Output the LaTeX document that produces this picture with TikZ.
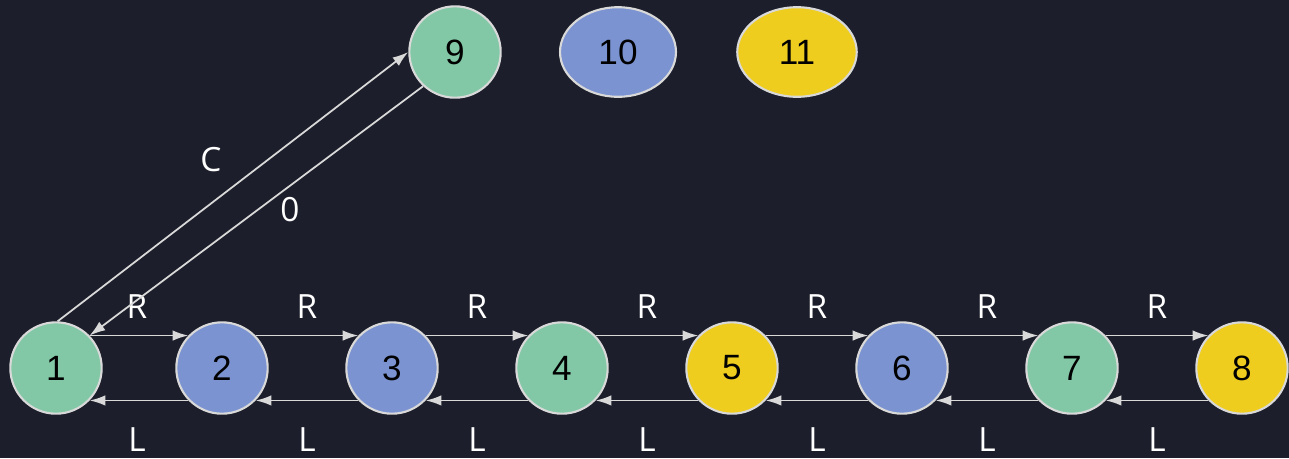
\documentclass[tikz,border=0pt]{standalone}
\usepackage{fontspec}
\setmainfont{Liberation Sans}
\newfontfamily\labfont{Open Sans}
\usetikzlibrary{arrows.meta, shapes.geometric}
\definecolor{bgdark}{HTML}{1C1F2B}
\definecolor{stgreen}{HTML}{82C8A6}
\definecolor{stblue}{HTML}{7B93D0}
\definecolor{styellow}{HTML}{EFCD1F}
\definecolor{edgegray}{HTML}{D9D9D9}
\tikzset{
  st/.style={circle, draw=edgegray, line width=1.2pt, minimum size=52pt, inner sep=0pt, font=\fontsize{20}{20}\selectfont},
  stoval/.style={ellipse, draw=edgegray, line width=1.2pt, inner sep=0pt, font=\fontsize{20}{20}\selectfont},
  tr/.style={draw=edgegray, line width=1pt, -{Latex[length=9pt,width=6pt]}},
  lab/.style={text=white, font=\labfont\fontsize{19}{19}\selectfont}}

\begin{document}
\begin{tikzpicture}[x=0.02cm, y=-0.02cm]
\fill[bgdark] (0,0) rectangle (1289,458);
\useasboundingbox (0,0) rectangle (1289,458);
	% chain
	\node[st, fill=stgreen] (n1) at (56,368) {1};
	\node[st, fill=stblue] (n2) at (222,368) {2};
	\node[st, fill=stblue] (n3) at (392,368) {3};
	\node[st, fill=stgreen] (n4) at (562,368) {4};
	\node[st, fill=styellow] (n5) at (732,368) {5};
	\node[st, fill=stblue] (n6) at (902,368) {6};
	\node[st, fill=stgreen] (n7) at (1072,368) {7};
	\node[st, fill=styellow] (n8) at (1242,368) {8};
	% top row
	\node[st, fill=stgreen] (n9) at (455,52) {9};
	\node[stoval, fill=stblue, minimum width=66pt, minimum height=51pt] (n10) at (618,52) {10};
	\node[stoval, fill=styellow, minimum width=68pt, minimum height=51pt] (n11) at (797,52) {11};
	% R and L
	\draw[tr] (n1.44) -- (n2.136);
	\draw[tr] (n2.44) -- (n3.136);
	\draw[tr] (n3.44) -- (n4.136);
	\draw[tr] (n4.44) -- (n5.136);
	\draw[tr] (n5.44) -- (n6.136);
	\draw[tr] (n6.44) -- (n7.136);
	\draw[tr] (n7.44) -- (n8.136);
	\draw[tr] (n2.-136) -- (n1.-44);
	\draw[tr] (n3.-136) -- (n2.-44);
	\draw[tr] (n4.-136) -- (n3.-44);
	\draw[tr] (n5.-136) -- (n4.-44);
	\draw[tr] (n6.-136) -- (n5.-44);
	\draw[tr] (n7.-136) -- (n6.-44);
	\draw[tr] (n8.-136) -- (n7.-44);
	\node[lab] (r1) at (137,307) {R};
	\node[lab] (r2) at (307,307) {R};
	\node[lab] (r3) at (477,307) {R};
	\node[lab] (r4) at (647,307) {R};
	\node[lab] (r5) at (817,307) {R};
	\node[lab] (r6) at (987,307) {R};
	\node[lab] (r7) at (1157,307) {R};
	\node[lab] (l1) at (137,440) {L};
	\node[lab] (l2) at (307,440) {L};
	\node[lab] (l3) at (477,440) {L};
	\node[lab] (l4) at (647,440) {L};
	\node[lab] (l5) at (817,440) {L};
	\node[lab] (l6) at (987,440) {L};
	\node[lab] (l7) at (1157,440) {L};
	% call and return
	\draw[tr] (n1.88) -- (n9.180);
	\draw[tr] (n9.227) -- (n1.44);
	\node[lab] (c) at (211,160) {C};
	\node[lab] (z) at (290,210) {0};
\end{tikzpicture}
\end{document}
